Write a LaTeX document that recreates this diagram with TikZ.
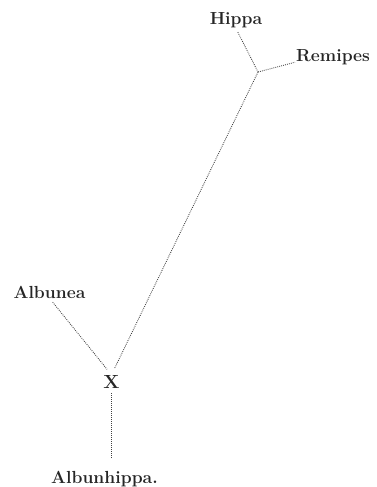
\documentclass[tikz,border=0pt]{standalone}
\begin{document}
\begin{tikzpicture}[x=1pt,y=-1pt,
  lbl/.style={inner sep=0pt,font=\fontsize{17.5}{20}\selectfont\bfseries,text=black!85},
  dotline/.style={line width=0.85pt,dash pattern=on 0.85pt off 1.15pt,draw=black!75}]
\useasboundingbox (0,0) rectangle (377,487);
\node[lbl,anchor=base] (hippa) at (236,25) {Hippa};
\node[lbl,anchor=base west] (remipes) at (296,62) {Remipes};
\node[lbl,anchor=base] (albunea) at (49.5,298) {Albunea};
\node[lbl,anchor=base,inner sep=0pt,font=\fontsize{19}{22}\selectfont\bfseries] (x) at (111.5,388) {X};
\node[lbl,anchor=base] (albunhippa) at (104.5,483) {Albunhippa.};
\coordinate (j) at (258,72);
\draw[dotline,shorten <=4pt] (hippa.south) -- (j);
\draw[dotline,shorten >=1pt] (j) -- (remipes.base west);
\draw[dotline,shorten >=7pt] (j) -- (x.north);
\draw[dotline,shorten <=5pt,shorten >=7pt] (albunea.south) -- (x.north);
\draw[dotline,shorten <=5pt,shorten >=13pt] (x.south) -- (x.south |- albunhippa.north);
\end{tikzpicture}
\end{document}
